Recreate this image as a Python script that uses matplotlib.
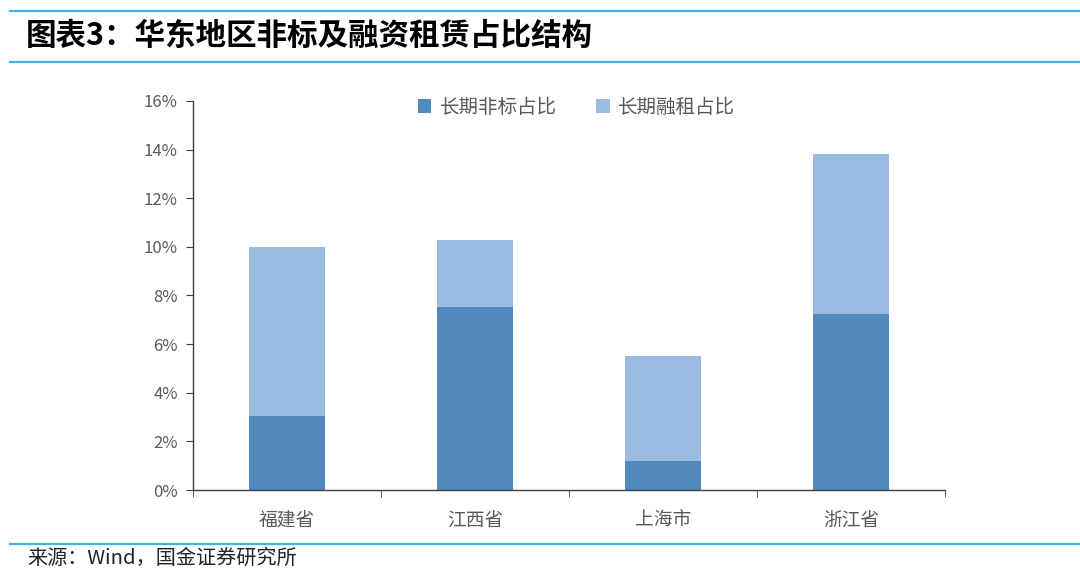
import matplotlib.pyplot as plt
import numpy as np
from matplotlib.lines import Line2D
from matplotlib.ticker import FuncFormatter, FixedLocator

plt.rcParams['font.family'] = ['Noto Sans CJK SC', 'DejaVu Sans']

regions = ['福建省', '江西省', '上海市', '浙江省']
nonstandard = [3.05, 7.53, 1.19, 7.24]
leasing = [6.95, 2.76, 4.32, 6.59]
series_names = ['长期非标占比', '长期融租占比']

dark = '#4f89be'
light = '#9bbbe0'
rule = '#3fb3ec'
grey = '#595959'

fig = plt.figure(figsize=(10.8, 5.79), dpi=100)
ax = fig.add_axes([0.1787, 0.1537, 0.6963, 0.6719])

x = np.arange(len(regions))
ax.bar(x, nonstandard, width=0.4, color=dark, label=series_names[0])
ax.bar(x, leasing, width=0.4, bottom=nonstandard, color=light,
       label=series_names[1])

ax.set_xlim(-0.5, len(regions) - 0.5)
ax.set_ylim(0, 16)
ax.set_yticks(np.arange(0, 17, 2))
ax.yaxis.set_major_formatter(FuncFormatter(lambda v, _: f'{v:.0f}%'))
ax.set_xticks(x)
ax.set_xticklabels(regions)
ax.xaxis.set_minor_locator(FixedLocator(np.arange(-0.5, len(regions), 1)))
ax.tick_params(axis='x', which='major', length=0, pad=14,
               labelsize=13.5, labelcolor=grey)
ax.tick_params(axis='x', which='minor', length=5, direction='out',
               color='#404040')
ax.tick_params(axis='y', length=5, direction='out', color='#404040',
               labelsize=12, labelcolor=grey, pad=6)
for side in ['top', 'right']:
    ax.spines[side].set_visible(False)
for side in ['left', 'bottom']:
    ax.spines[side].set_color('#404040')
    ax.spines[side].set_linewidth(1.0)

ax.legend(loc='upper center', bbox_to_anchor=(0.51, 1.055), ncol=2,
          frameon=False, fontsize=14, labelcolor=grey, handlelength=0.7,
          handleheight=0.7, handletextpad=0.45, columnspacing=2.0)

# header and footer rules
for y in [0.981, 0.893, 0.060]:
    fig.add_artist(Line2D([0.009, 1.0], [y, y], color=rule, lw=1.6,
                          transform=fig.transFigure))

fig.text(0.024, 0.938, '图表3：华东地区非标及融资租赁占比结构', fontsize=22,
         fontweight='bold', style='italic', va='center', ha='left')
fig.text(0.025, 0.036, '来源：Wind，国金证券研究所', fontsize=14.5,
         va='center', ha='left', color='#222222')

fig.savefig('out.png', dpi=100)
